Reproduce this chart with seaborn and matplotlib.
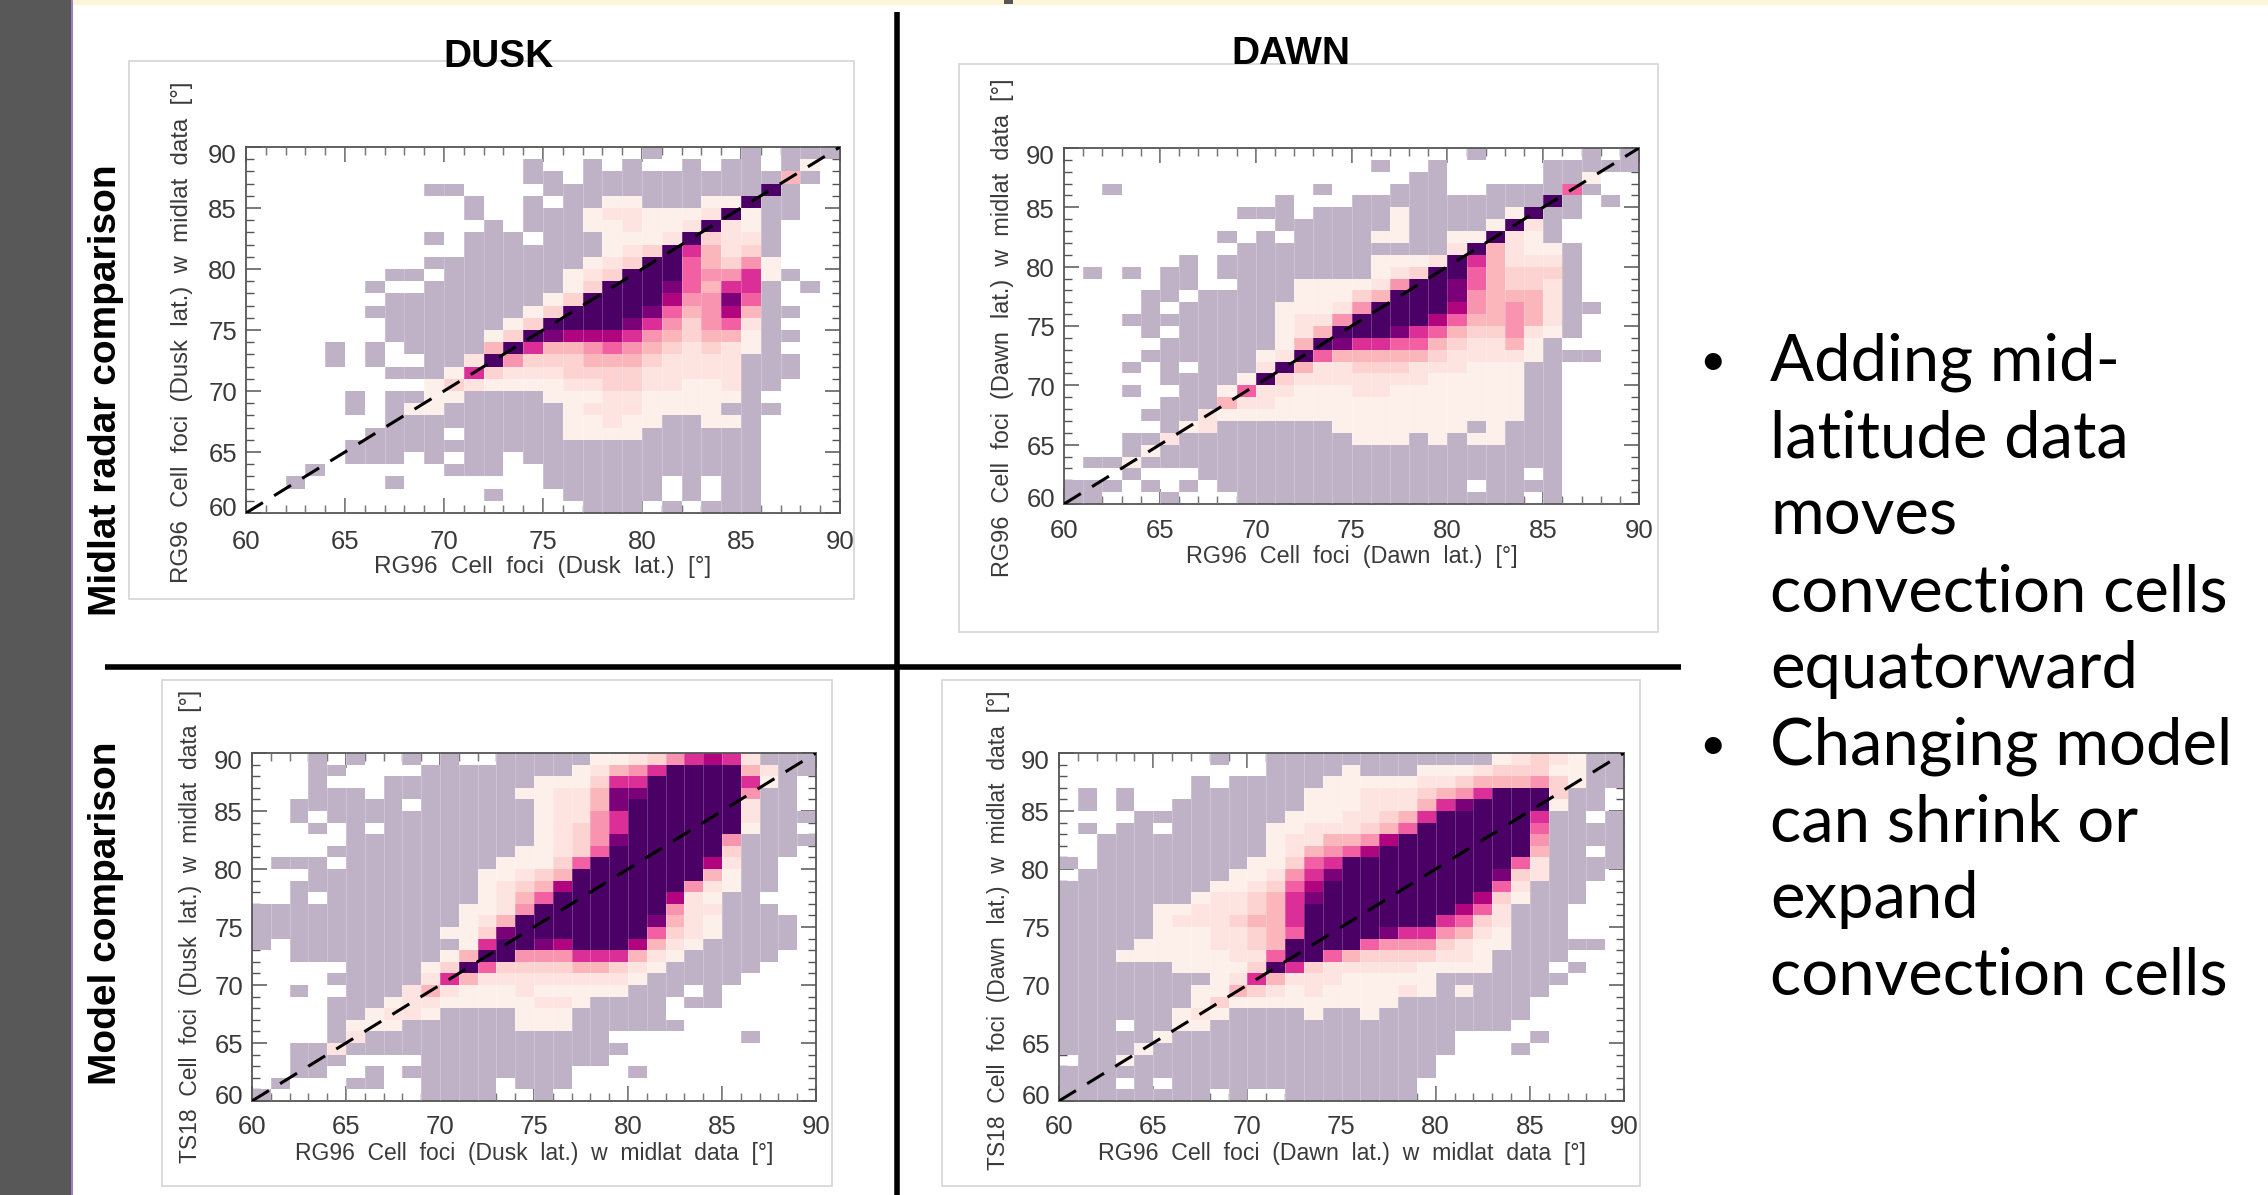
import matplotlib
matplotlib.use("Agg")
import matplotlib.pyplot as plt
from matplotlib.colors import ListedColormap
from matplotlib.lines import Line2D
from matplotlib.patches import Rectangle
from matplotlib.transforms import ScaledTranslation
import numpy as np
import pandas as pd
import seaborn as sns

W, H = 2268, 1195

LEVEL_COLOURS = ["#bfb2c6", "#fdf0ea", "#fde4e0", "#fcd3d1", "#fbb6bb", "#f994b0",
                 "#f25fa3", "#db2f97", "#b0057f", "#7a0177", "#4b0065"]
LATITUDES = list(range(60, 90))
TICK_LABELS = [60, 65, 70, 75, 80, 85, 90]

# Rows run from latitude 89 (top) to 60 (bottom). "." = empty, 1-9, a, b = colour level.
DUSK_MIDLAT = [
 "..... ..... ..... ..... 1.... 1.111",
 "..... ..... ....1 ..1.1 ..1.1 1.12.",
 "..... ..... ....1 1.111 11111 1151.",
 "..... ....1 1.... 11111 11111 1b1..",
 "..... ..... .1..1 .1122 11122 b11..",
 "..... ..... .1..1 11233 2223b 211..",
 "..... ..... ..1.1 11223 223b3 21...",
 "..... ....1 .111. 11122 23b43 31...",
 "..... ..... .1111 11123 4b853 41...",
 "..... ....1 11111 11234 bb754 62...",
 "..... ..11. 11111 1234b bb766 821..",
 "..... .1..1 11111 124bb ba758 81.1.",
 "..... ..111 11111 24bbb b966a 71...",
 "..... .1111 11112 4bbbb a7569 511..",
 "..... ..111 11124 bbbba 86467 31...",
 "..... ..111 1124b a9998 65455 211..",
 "....1 .1.11 115b8 55676 54343 21...",
 "....1 .1..1 13b64 44555 43333 111..",
 "..... ..111 28433 34444 33333 111..",
 "..... ....2 43222 23344 33223 11...",
 "..... 1.112 21111 22233 22222 1....",
 "..... 1.122 11111 12333 22221 11...",
 "..... ..111 11111 12232 21122 1....",
 "..... .1111 .1111 12222 11111 1....",
 "..... 11111 11111 11111 11111 1....",
 "..... 111.1 .11.1 11111 11111 1....",
 "...1. ..... 111.. 11111 11111 1....",
 "..1.. ..1.. ..... 11111 1.1.1 1....",
 "..... ..... ..1.. .1111 1.1.1 1....",
 "..... ..... ..... ..111 .1.11 1....",
]
DAWN_MIDLAT = [
 "..... ..... ..... ..... .1... ..1.1",
 "..... ..... ..... .1..1 ..... 11111",
 "..... ..... ..... ...11 ..... 112..",
 "..1.. ..... ...1. ..111 ..111 171..",
 "..... ..... .1... 11111 11111 b1.1.",
 "..... ....1 11.11 11211 1112b 11...",
 "..... ..... .1111 11211 112b3 1....",
 "..... ...1. 1.111 12211 22b32 1....",
 "..... ....1 11111 11111 3b532 21...",
 "..... .1.11 11111 12223 b8533 31...",
 ".1.1. 11.11 11111 1234b b7544 41...",
 "..... 11..1 11222 236bb a7544 31...",
 "....1 1.111 11222 45bbb a6555 31...",
 "....1 .1111 12223 6bbbb 96565 311..",
 "...11 11111 12336 bbbb9 75565 31...",
 "....1 .1111 1235b bba87 54463 21...",
 "..... 11111 125ba 88775 43352 1....",
 "....1 11111 23b75 55554 33332 111..",
 "...1. 1.111 3b533 44433 32221 1....",
 "..... 11112 b4333 33332 22221 1....",
 "...1. .1127 33222 33222 22221 1....",
 "..... 11153 32222 22222 22221 1....",
 "....1 11322 22222 22222 22221 1....",
 "..... 12311 11112 22222 21211 1....",
 "...11 31111 11111 22212 12211 1....",
 "...12 11111 11111 11111 11111 1....",
 ".1121 11111 11111 11111 11111 1....",
 "...1. ..111 11111 11111 1111. 1....",
 "111.1 .1.11 11111 11111 1.111 1....",
 "11... 1...1 11111 11111 1111. 1....",
]
DUSK_TS18 = [
 "...1. 1..1. 1..11 11122 34689 83111",
 "...11 ....1 11111 11235 68bbb b5311",
 "...1. ..111 11111 22248 8bbbb b821.",
 "...11 1.111 11112 2335a abbbb b611.",
 "..111 111.1 11111 2335a bbbbb b311.",
 "..1.1 11111 11111 23368 bbbbb b3111",
 "...1. 1.111 11111 23468 bbbbb b211.",
 "..... 11111 11111 2346a bbbbb 61111",
 "....1 11111 11112 2347b bbbbb 4111.",
 ".111. 11111 11122 247bb bbbb9 311..",
 "...11 11111 11223 45bbb bbbb5 211..",
 "..111 11111 11234 59bbb bbb63 211..",
 "..1.1 11111 11235 7bbbb bb932 11...",
 "11111 11111 12236 bbbbb bb633 111..",
 "11111 11111 1235b bbbbb ba532 1111.",
 "11111 11111 224ab bbbbb b7432 1111.",
 "1.111 11111 128bb a9bbb 95321 1111.",
 "..111 11111 25bb6 66888 53211 111..",
 "..... 11112 4b744 44554 32111 11...",
 "....1 11113 85333 33333 21111 1....",
 "..1.. 11135 32223 22222 111.1 .....",
 "....1 11233 22222 33211 11.11 .....",
 "....1 12332 11112 22111 11... .....",
 "....1 22211 11112 22111 111.. .....",
 "....1 31111 11111 1111. ..... .1...",
 "..113 11111 11111 11111 ..... .....",
 "..111 ....1 11111 1111. ..... .....",
 "..11. .1.11 11111 11... 1.... .....",
 ".1... 11..1 111.1 11... ..... .....",
 "1.... ....1 111.. 1.... ..... .....",
]
DAWN_TS18 = [
 "..... ...1. .1111 11111 11123 43211",
 "..... ..... .1111 21112 22344 42211",
 "..... ..1.1 11112 22223 34555 64211",
 ".1.1. ..111 11122 23334 568bb b411.",
 ".1.1. .1111 11122 23335 8abbb b211.",
 "....1 11111 11222 33458 bbbbb 811.1",
 ".1.11 .1111 12233 3457b bbbbb 71111",
 "..111 11111 12335 569bb bbbbb 61111",
 "..111 11111 12356 79bbb bbbbb 511.1",
 "1.111 11111 22478 bbbbb bbbb7 31111",
 ".1111 11112 2368a bbbbb bbba4 3111.",
 "11111 11122 3479b bbbbb bbb73 111..",
 "11111 11233 458ab bbbbb bb942 111..",
 "11111 22333 458bb bbbbb b9731 11...",
 "11111 23334 558bb bbbbb 87431 11...",
 "11111 22233 457bb bba88 65321 11...",
 "11112 22233 45bbb b7666 43221 1111.",
 "11122 22223 37bb7 54444 33211 11...",
 "11111 12222 4b843 33332 22211 1.1..",
 "11111 11123 85333 22222 11111 11...",
 "11111 11225 43232 22232 12111 1....",
 "11111 11242 22222 22211 11111 .....",
 "11111 12321 11121 12111 11111 .....",
 "111.1 12211 11111 11111 1111. .....",
 "11111 21111 11111 11111 1.... 1....",
 "11112 11111 11111 11111 1...1 .....",
 ".1121 11111 11111 11111 ..... .....",
 "11111 11111 11111 11111 ..... .....",
 "111.1 .1111 11111 1111. ..... .....",
 "11111 111.1 ..111 1111. ..... .....",
]

PANELS = [
    dict(rows=DUSK_MIDLAT, box=(246, 147, 840, 513), frame=(129, 61, 854, 599),
         xlab="RG96  Cell  foci  (Dusk  lat.)  [°]", xlab_size=17.5, xpad=12,
         ylab="RG96  Cell  foci  (Dusk  lat.)  w  midlat  data  [°]",
         ylab_at=(182, 332), ylab_size=17.3),
    dict(rows=DAWN_MIDLAT, box=(1064, 148, 1639, 504), frame=(959, 64, 1658, 632),
         xlab="RG96  Cell  foci  (Dawn  lat.)  [°]", xlab_size=16.8, xpad=10.5,
         ylab="RG96  Cell  foci  (Dawn  lat.)  w  midlat  data  [°]",
         ylab_at=(1002, 328), ylab_size=16.9),
    dict(rows=DUSK_TS18, box=(252, 753, 816, 1101), frame=(162, 680, 832, 1186),
         xlab="RG96  Cell  foci  (Dusk  lat.)  w  midlat  data  [°]", xlab_size=16.5, xpad=10,
         ylab="TS18  Cell  foci  (Dusk  lat.)  w  midlat  data  [°]",
         ylab_at=(191, 926), ylab_size=16.5),
    dict(rows=DAWN_TS18, box=(1059, 753, 1624, 1101), frame=(942, 680, 1640, 1186),
         xlab="RG96  Cell  foci  (Dawn  lat.)  w  midlat  data  [°]", xlab_size=16.7, xpad=10,
         ylab="TS18  Cell  foci  (Dawn  lat.)  w  midlat  data  [°]",
         ylab_at=(998, 930), ylab_size=16.5),
]

BULLETS = [
    ["Adding mid-", "latitude data", "moves", "convection cells", "equatorward"],
    ["Changing model", "can shrink or", "expand", "convection cells"],
]

sns.set_theme(style="white")
plt.rcParams["font.family"] = ["Liberation Sans", "DejaVu Sans"]

fig = plt.figure(figsize=(W / 100, H / 100), dpi=100, facecolor="white")


def fx(x):
    return x / W


def fy(y):
    return 1 - y / H


def page_rect(x0, y0, x1, y1, **kw):
    fig.add_artist(Rectangle((fx(x0), fy(y1)), (x1 - x0) / W, (y1 - y0) / H,
                             transform=fig.transFigure, zorder=-1, **kw))


def page_line(x0, y0, x1, y1, **kw):
    fig.add_artist(Line2D([fx(x0), fx(x1)], [fy(y0), fy(y1)],
                          transform=fig.transFigure, **kw))


# slide furniture
page_rect(0, 0, 71, H, facecolor="#585858", edgecolor="none")
page_rect(71, 0, 73, H, facecolor="#9a7fc0", edgecolor="none")
page_rect(73, 0, W, 5, facecolor="#fdf5d8", edgecolor="none")
page_rect(1004, 0, 1013, 4, facecolor="#555555", edgecolor="none")

cmap = ListedColormap(LEVEL_COLOURS)
cmap.set_bad((1, 1, 1, 0))
INK = "#3a3a3a"

for p in PANELS:
    axbox, frame = p["box"], p["frame"]
    page_rect(frame[0], frame[1], frame[2], frame[3], facecolor="white",
              edgecolor="#d4d4d4", linewidth=1.2)
    ax = fig.add_axes([fx(axbox[0]), fy(axbox[3]), (axbox[2] - axbox[0]) / W,
                       (axbox[3] - axbox[1]) / H])
    table = [[np.nan if c == "." else int(c, 16) for c in r.replace(" ", "")] for r in p["rows"]]
    df = pd.DataFrame(table[::-1], index=LATITUDES, columns=LATITUDES)
    sns.heatmap(df, ax=ax, cmap=cmap, vmin=0.5, vmax=11.5, cbar=False,
                xticklabels=False, yticklabels=False, linewidths=0)
    ax.set_ylim(0, len(LATITUDES))
    ax.set_xlim(0, len(LATITUDES))
    ax.vlines(range(1, len(LATITUDES)), 0, len(LATITUDES), color="white", lw=0.7, alpha=0.22, zorder=3)
    ax.plot(ax.get_xlim(), ax.get_ylim(), color="black", lw=2.2, dashes=(6.5, 4.3), zorder=5)
    pos = [t - LATITUDES[0] for t in TICK_LABELS]
    ax.set_xticks(pos, labels=TICK_LABELS)
    ax.set_yticks(pos, labels=TICK_LABELS)
    ax.set_xticks(range(len(LATITUDES)), minor=True)
    ax.set_yticks(range(len(LATITUDES)), minor=True)
    ax.tick_params(which="major", direction="in", length=11, width=1.1, color="#555555",
                   top=True, right=True, bottom=True, left=True,
                   labelsize=18.5, labelcolor=INK)
    ax.tick_params(which="minor", direction="in", length=5.5, width=1.0, color="#555555",
                   top=True, right=True, bottom=True, left=True)
    ax.tick_params(axis="x", which="major", pad=p["xpad"])
    ax.tick_params(axis="y", which="major", pad=6.5)
    # end labels of the y axis sit just inside the axis range
    ylabels = ax.get_yticklabels()
    shifts = [5.0] + [-0.7] * (len(ylabels) - 2) + [-5.0]
    for lab, dy in zip(ylabels, shifts):
        lab.set_transform(lab.get_transform() + ScaledTranslation(0, dy / 72, fig.dpi_scale_trans))
    for s in ax.spines.values():
        s.set_visible(True)
        s.set_color("#555555")
        s.set_linewidth(1.3)
    ax.set_xlabel(p["xlab"], fontsize=p["xlab_size"], color=INK, labelpad=2)
    fig.text(fx(p["ylab_at"][0]), fy(p["ylab_at"][1]), p["ylab"], rotation=90,
             ha="center", va="center", fontsize=p["ylab_size"], color=INK)

# dividing lines
page_line(897, 12, 897, H, color="black", lw=4.0, solid_capstyle="butt")
page_line(105, 667, 1681, 667, color="black", lw=4.0, solid_capstyle="butt")

# headings
HEAD = dict(family=["Liberation Sans"], fontweight="bold", color="black")
fig.text(fx(499), fy(57), "DUSK", ha="center", va="center", fontsize=28, **HEAD)
fig.text(fx(1291), fy(54), "DAWN", ha="center", va="center", fontsize=28, **HEAD)
fig.text(fx(106), fy(390), "Midlat radar comparison", rotation=90, ha="center", va="center",
         fontsize=28, **HEAD)
fig.text(fx(106), fy(913), "Model comparison", rotation=90, ha="center", va="center",
         fontsize=28, **HEAD)

# bullet list
line_y = 362.5
for group in BULLETS:
    fig.text(fx(1712), fy(line_y), "•", ha="center", va="center", fontsize=33,
             color="black", family=["Lato"])
    for line in group:
        fig.text(fx(1770), fy(line_y), line, ha="left", va="center", fontsize=47,
                 color="black", family=["Lato"])
        line_y += 76.7

fig.savefig("out.png", dpi=100, facecolor="white")
